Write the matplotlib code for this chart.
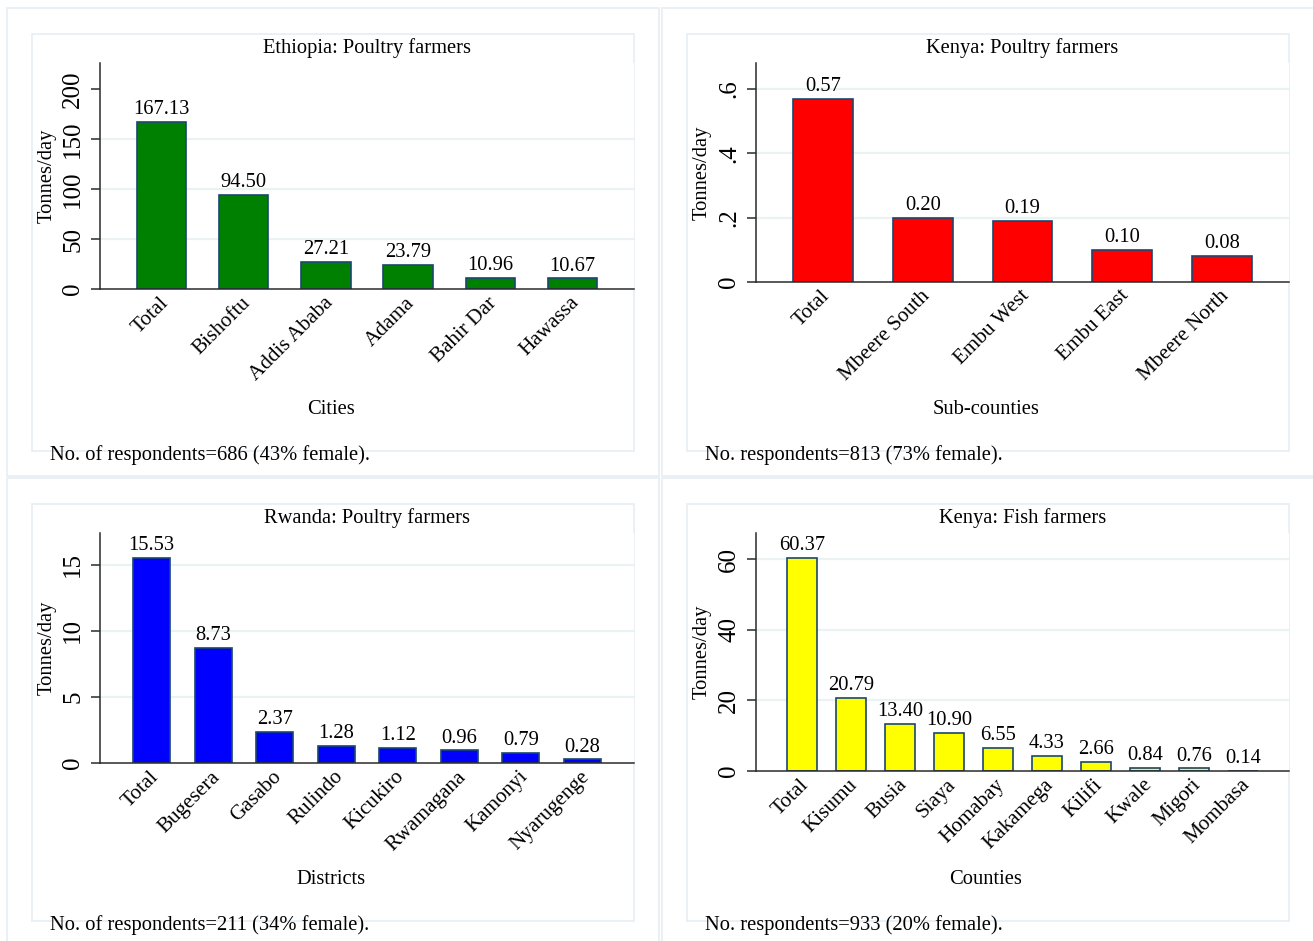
import matplotlib
matplotlib.use('Agg')
import matplotlib.pyplot as plt
import matplotlib.transforms as mtransforms
from matplotlib.patches import Rectangle

plt.rcParams['font.family'] = ['Liberation Serif', 'DejaVu Serif']

# tonnes/day by location, one set per survey
eth_cities = ['Total', 'Bishoftu', 'Addis Ababa', 'Adama', 'Bahir Dar', 'Hawassa']
eth_tpd = [167.13, 94.50, 27.21, 23.79, 10.96, 10.67]

ken_subcounties = ['Total', 'Mbeere South', 'Embu West', 'Embu East', 'Mbeere North']
ken_tpd = [0.57, 0.20, 0.19, 0.10, 0.08]

rwa_districts = ['Total', 'Bugesera', 'Gasabo', 'Rulindo', 'Kicukiro', 'Rwamagana', 'Kamonyi', 'Nyarugenge']
rwa_tpd = [15.53, 8.73, 2.37, 1.28, 1.12, 0.96, 0.79, 0.28]

fish_counties = ['Total', 'Kisumu', 'Busia', 'Siaya', 'Homabay', 'Kakamega', 'Kilifi', 'Kwale', 'Migori', 'Mombasa']
fish_tpd = [60.37, 20.79, 13.40, 10.90, 6.55, 4.33, 2.66, 0.84, 0.76, 0.14]

W, H = 1313, 941
fig = plt.figure(figsize=(W / 100, H / 100), dpi=100)

def rect(x0, y0, x1, y1):
    # pixel box (top-left origin) -> figure fraction
    return [x0 / W, 1 - y1 / H, (x1 - x0) / W, (y1 - y0) / H]

def ftext(x, y, s, **kw):
    fig.text(x / W, 1 - y / H, s, **kw)

bg = fig.add_axes([0, 0, 1, 1], zorder=0)
bg.set_xlim(0, W)
bg.set_ylim(H, 0)
bg.axis('off')

box_col = '#e6eef2'
grid_col = '#eaf2f3'
axis_col = '#2b2b2b'
edge_col = '#1a476f'
fs = 14.8

panels = [
    dict(cats=eth_cities, vals=eth_tpd, color='#008000', dx=0, dy=0,
         plot=(100, 63, 634, 289), ymax=226, pad=0.75,
         ticks=[0, 50, 100, 150, 200], tlabels=['0', '50', '100', '150', '200'],
         title='Ethiopia: Poultry farmers', xlab='Cities',
         note='No. of respondents=686 (43% female).', skip_top_grid=True),
    dict(cats=ken_subcounties, vals=ken_tpd, color='#ff0000', dx=655, dy=0,
         plot=(756, 63, 1289, 282), ymax=0.681, pad=0.675,
         ticks=[0, 0.2, 0.4, 0.6], tlabels=['0', '.2', '.4', '.6'],
         title='Kenya: Poultry farmers', xlab='Sub-counties',
         note='No. respondents=813 (73% female).', skip_top_grid=False),
    dict(cats=rwa_districts, vals=rwa_tpd, color='#0000ff', dx=0, dy=470,
         plot=(100, 533, 634, 763), ymax=17.42, pad=0.84,
         ticks=[0, 5, 10, 15], tlabels=['0', '5', '10', '15'],
         title='Rwanda: Poultry farmers', xlab='Districts',
         note='No. of respondents=211 (34% female).', skip_top_grid=False),
    dict(cats=fish_counties, vals=fish_tpd, color='#ffff00', dx=655, dy=470,
         plot=(756, 533, 1289, 771), ymax=67.4, pad=0.94,
         ticks=[0, 20, 40, 60], tlabels=['0', '20', '40', '60'],
         title='Kenya: Fish farmers', xlab='Counties',
         note='No. respondents=933 (20% female).', skip_top_grid=False),
]

# nudge rotated category labels a little to the right
nudge = mtransforms.ScaledTranslation(4 / 100, 0, fig.dpi_scale_trans)

for p in panels:
    dx, dy = p['dx'], p['dy']
    # outer panel frame and inner graph frame
    bg.add_patch(Rectangle((7 + dx, 8 + dy), 652, 468, fill=False, ec=box_col, lw=1.2))
    bg.add_patch(Rectangle((32 + dx, 34 + dy), 602, 417, fill=False, ec=box_col, lw=1.2))

    x0, y0, x1, y1 = p['plot']
    ax = fig.add_axes(rect(x0, y0, x1, y1), zorder=1)
    ax.set_facecolor('white')
    n = len(p['cats'])
    pos = list(range(n))
    ax.bar(pos, p['vals'], width=0.6, color=p['color'], edgecolor=edge_col, linewidth=1.2, zorder=3)
    for i, v in zip(pos, p['vals']):
        ax.annotate(f'{v:.2f}', (i, v), xytext=(0, 2), textcoords='offset points',
                    ha='center', va='bottom', fontsize=fs, zorder=4)

    ax.set_xlim(-p['pad'], n - 1 + p['pad'])
    ax.set_ylim(0, p['ymax'])
    ax.set_xticks(pos)
    ax.set_xticklabels(p['cats'], fontsize=15.2, rotation=45, ha='right',
                       va='center', rotation_mode='anchor')
    ax.tick_params(axis='x', length=0, pad=8)
    for lab in ax.get_xticklabels():
        lab.set_transform(lab.get_transform() + nudge)
    ax.set_yticks(p['ticks'])
    ax.set_yticklabels(p['tlabels'], fontsize=18, rotation=90, va='center')
    ax.tick_params(axis='y', length=6.5, width=1.1, color=axis_col, pad=5)

    ax.yaxis.grid(True, color=grid_col, linewidth=1.6, zorder=0)
    ax.set_axisbelow(True)
    glines = ax.get_ygridlines()
    glines[0].set_visible(False)
    if p['skip_top_grid']:
        glines[-1].set_visible(False)

    for s in ('top', 'right'):
        ax.spines[s].set_visible(False)
    for s in ('left', 'bottom'):
        ax.spines[s].set_color(axis_col)
        ax.spines[s].set_linewidth(1.1)
    ax.spines['bottom'].set_zorder(5)

    ftext((x0 + x1) / 2, 48 + dy, p['title'], ha='center', va='center', fontsize=fs)
    ftext(47 + dx, (y0 + y1) / 2, 'Tonnes/day', ha='center', va='center', rotation=90, fontsize=fs)
    ftext(331 + dx, 410 + dy, p['xlab'], ha='center', va='center', fontsize=fs)
    ftext(50 + dx, 455 + dy, p['note'], ha='left', va='center', fontsize=fs, zorder=6)

fig.savefig('out.png', dpi=100, facecolor='white')
